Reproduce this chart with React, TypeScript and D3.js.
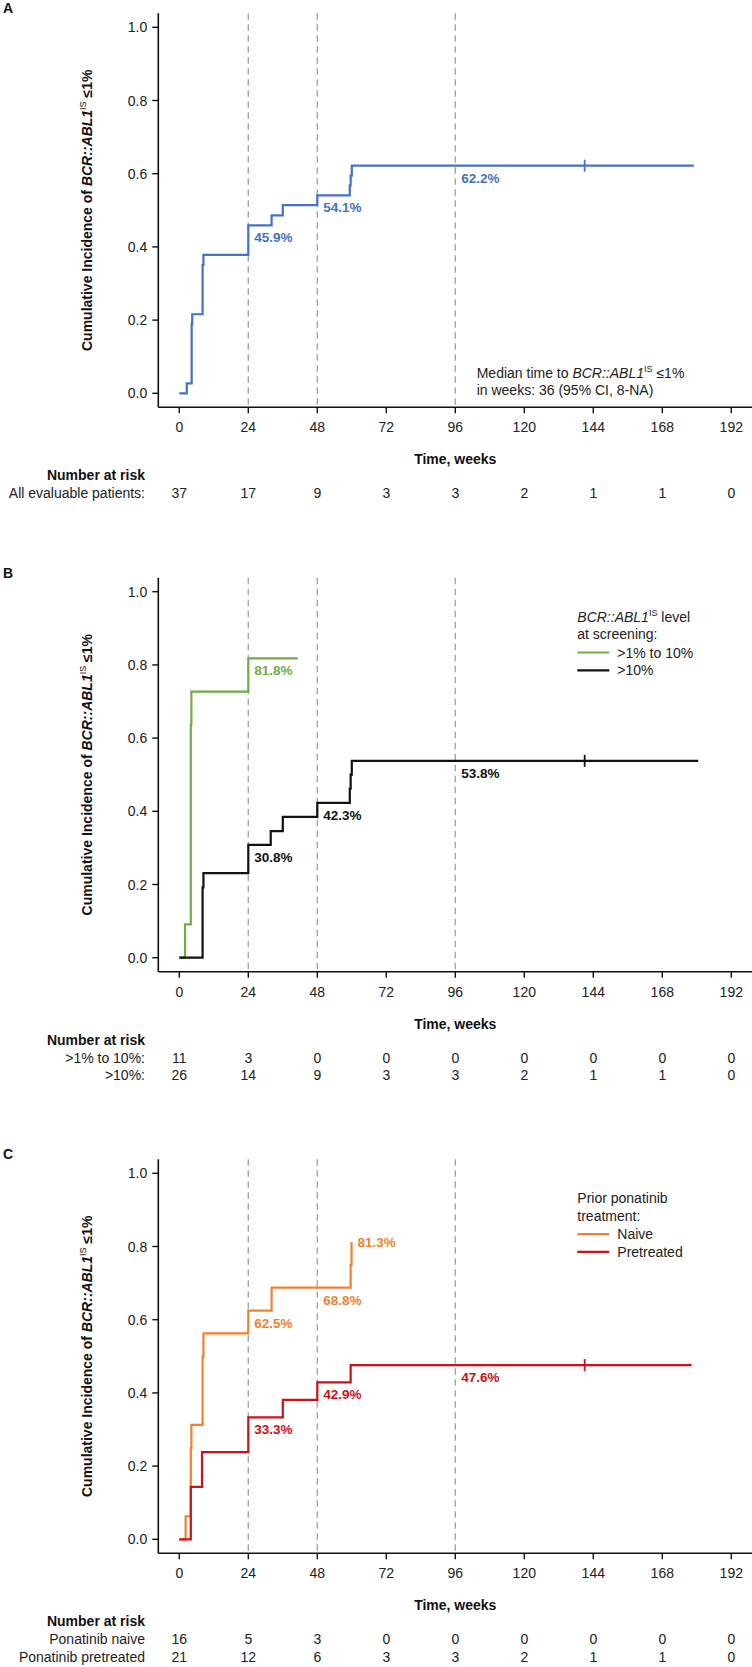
import React from "react";
import * as d3 from "d3";

const FONT = "'Liberation Sans', Arial, Helvetica, sans-serif";

const weekTicks = [0, 24, 48, 72, 96, 120, 144, 168, 192];
const yTicks = [0, 0.2, 0.4, 0.6, 0.8, 1.0];
const refWeeks = [24, 48, 96];

// Panel A
const allTimes = [0, 2.6, 4.3, 4.5, 8.1, 8.4, 24, 32.1, 36, 48, 59.3, 59.6, 60];
const allValues = [0, 0.027, 0.189, 0.216, 0.351, 0.378, 0.459, 0.486, 0.514, 0.541, 0.568, 0.595, 0.622];
const allEnd = 179;
const allCensor = [141];
const allRisk = [37, 17, 9, 3, 3, 2, 1, 1, 0];

// Panel B
const lowTimes = [0, 2, 4.0, 4.2, 24];
const lowValues = [0, 0.091, 0.636, 0.727, 0.818];
const lowEnd = 41.2;
const highTimes = [0, 8.1, 8.4, 24, 31.8, 36, 48, 59.3, 59.6, 60];
const highValues = [0, 0.192, 0.231, 0.308, 0.346, 0.385, 0.423, 0.462, 0.5, 0.538];
const highEnd = 180.5;
const highCensor = [141];
const lowRisk = [11, 3, 0, 0, 0, 0, 0, 0, 0];
const highRisk = [26, 14, 9, 3, 3, 2, 1, 1, 0];

// Panel C
const naiveTimes = [0, 2.2, 4.0, 4.2, 8.1, 8.4, 24, 32.1, 59.6, 59.9];
const naiveValues = [0, 0.0625, 0.25, 0.3125, 0.5, 0.5625, 0.625, 0.6875, 0.75, 0.8125];
const naiveEnd = 59.9;
const preTimes = [0, 4.0, 7.9, 24, 36, 48, 59.6];
const preValues = [0, 0.143, 0.238, 0.333, 0.381, 0.429, 0.476];
const preEnd = 178.2;
const preCensor = [141];
const naiveRisk = [16, 5, 3, 0, 0, 0, 0, 0, 0];
const preRisk = [21, 12, 6, 3, 3, 2, 1, 1, 0];

const BLUE = "#4472c4";
const GREEN = "#70ad47";
const BLACK = "#111111";
const ORANGE = "#f0812f";
const RED = "#cc1018";

type Series = { times: number[]; values: number[]; end: number; censor: number[]; color: string };
type Label = { text: string; t: number; v: number; color: string; side?: "right" };
type RiskRow = { name: string; counts: number[] };

const xScale = d3.scaleLinear().domain([0, 192]).range([179.3, 731.3]);
const AXIS_X = 158.3;
const PLOT_H = 366;

function stepPath(s: Series, y: d3.ScaleLinear<number, number>) {
  const pts: [number, number][] = s.times.map((t, i) => [t, s.values[i]]);
  pts.push([s.end, s.values[s.values.length - 1]]);
  const line = d3
    .line<[number, number]>()
    .x((d) => xScale(d[0]))
    .y((d) => y(d[1]))
    .curve(d3.curveStepAfter);
  return line(pts) || "";
}

function valueAt(s: Series, t: number) {
  let v = 0;
  s.times.forEach((tt, i) => {
    if (tt <= t) v = s.values[i];
  });
  return v;
}

function YTitle({ cx, cy }: { cx: number; cy: number }) {
  return (
    <text
      transform={`translate(${cx},${cy}) rotate(-90)`}
      textAnchor="middle"
      fontFamily={FONT}
      fontSize={14}
      fontWeight="bold"
      fill="#111"
    >
      <tspan>Cumulative Incidence of </tspan>
      <tspan fontStyle="italic">BCR::ABL1</tspan>
      <tspan fontSize={9} fontWeight="normal" dy={-6}>IS</tspan>
      <tspan dy={6}> ≤1%</tspan>
    </text>
  );
}

function Panel({
  letter,
  top,
  series,
  labels,
  risk,
  legend,
}: {
  letter: string;
  top: number;
  series: Series[];
  labels: Label[];
  risk: RiskRow[];
  legend: React.ReactNode;
}) {
  const y = d3.scaleLinear().domain([0, 1]).range([top + PLOT_H, top]);
  const Y0 = y(0);
  const axisTop = top - 14;
  const axisBottom = Y0 + 14;
  return (
    <g fontFamily={FONT}>
      <text x={3} y={top - 14} fontSize={14} fontWeight="bold" fill="#111">
        {letter}
      </text>
      {/* reference dashed lines */}
      {refWeeks.map((w) => (
        <line
          key={w}
          x1={xScale(w)}
          x2={xScale(w)}
          y1={axisTop}
          y2={axisBottom}
          stroke="#a6a6a6"
          strokeWidth={1.4}
          strokeDasharray="6.5,4.5"
        />
      ))}
      {/* axes */}
      <line x1={AXIS_X} x2={AXIS_X} y1={axisTop} y2={axisBottom} stroke="#111" strokeWidth={1.6} />
      <line x1={AXIS_X} x2={752} y1={axisBottom} y2={axisBottom} stroke="#111" strokeWidth={1.6} />
      {yTicks.map((v) => (
        <g key={v}>
          <line x1={AXIS_X - 6} x2={AXIS_X} y1={y(v)} y2={y(v)} stroke="#111" strokeWidth={1.4} />
          <text x={AXIS_X - 11} y={y(v) + 5} textAnchor="end" fontSize={14} fill="#222">
            {v.toFixed(1)}
          </text>
        </g>
      ))}
      {weekTicks.map((w) => (
        <g key={w}>
          <line x1={xScale(w)} x2={xScale(w)} y1={axisBottom} y2={axisBottom + 6} stroke="#111" strokeWidth={1.4} />
          <text x={xScale(w)} y={Y0 + 39} textAnchor="middle" fontSize={14} fill="#222">
            {w}
          </text>
        </g>
      ))}
      <YTitle cx={92} cy={(y(0) + y(1)) / 2} />
      <text x={xScale(96)} y={Y0 + 71} textAnchor="middle" fontSize={14} fontWeight="bold" fill="#111">
        Time, weeks
      </text>
      {/* curves */}
      {series.map((s, i) => (
        <g key={i}>
          <path d={stepPath(s, y)} fill="none" stroke={s.color} strokeWidth={2.2} />
          {s.censor.map((c) => (
            <line
              key={c}
              x1={xScale(c)}
              x2={xScale(c)}
              y1={y(valueAt(s, c)) - 6}
              y2={y(valueAt(s, c)) + 6}
              stroke={s.color}
              strokeWidth={1.8}
            />
          ))}
        </g>
      ))}
      {labels.map((l, i) =>
        l.side === "right" ? (
          <text key={i} x={xScale(l.t) + 6} y={y(l.v) + 5} fontSize={13.5} fontWeight="bold" fill={l.color}>
            {l.text}
          </text>
        ) : (
          <text key={i} x={xScale(l.t) + 6} y={y(l.v) + 17} fontSize={13.5} fontWeight="bold" fill={l.color}>
            {l.text}
          </text>
        )
      )}
      {legend}
      {/* number at risk */}
      <text x={145} y={Y0 + 87} textAnchor="end" fontSize={14} fontWeight="bold" fill="#111">
        Number at risk
      </text>
      {risk.map((r, ri) => (
        <g key={ri}>
          <text x={145} y={Y0 + 105 + ri * 17.7} textAnchor="end" fontSize={14} fill="#222">
            {r.name}
          </text>
          {r.counts.map((c, ci) => (
            <text
              key={ci}
              x={xScale(weekTicks[ci])}
              y={Y0 + 105 + ri * 17.7}
              textAnchor="middle"
              fontSize={14}
              fill="#222"
            >
              {c}
            </text>
          ))}
        </g>
      ))}
    </g>
  );
}

function LegendBlock({
  top,
  title1,
  title2,
  items,
}: {
  top: number;
  title1: React.ReactNode;
  title2: string;
  items: { name: string; color: string }[];
}) {
  const lx = 577.3;
  return (
    <g fontFamily={FONT} fontSize={14} fill="#222">
      <text x={lx} y={top + 30}>{title1}</text>
      <text x={lx} y={top + 47.5}>{title2}</text>
      {items.map((it, i) => (
        <g key={i}>
          <line x1={lx} x2={lx + 32} y1={top + 60.8 + i * 17.8} y2={top + 60.8 + i * 17.8} stroke={it.color} strokeWidth={2.2} />
          <text x={lx + 40} y={top + 65.8 + i * 17.8}>{it.name}</text>
        </g>
      ))}
    </g>
  );
}

export default function App() {
  const topA = 27.3;
  const topB = 591.7;
  const topC = 1173.3;
  const yA = d3.scaleLinear().domain([0, 1]).range([topA + PLOT_H, topA]);

  const seriesA: Series[] = [{ times: allTimes, values: allValues, end: allEnd, censor: allCensor, color: BLUE }];
  const labelsA: Label[] = [
    { text: "45.9%", t: 24, v: valueAt(seriesA[0], 24), color: BLUE },
    { text: "54.1%", t: 48, v: valueAt(seriesA[0], 48), color: BLUE },
    { text: "62.2%", t: 96, v: valueAt(seriesA[0], 96), color: BLUE },
  ];

  const seriesB: Series[] = [
    { times: lowTimes, values: lowValues, end: lowEnd, censor: [], color: GREEN },
    { times: highTimes, values: highValues, end: highEnd, censor: highCensor, color: BLACK },
  ];
  const labelsB: Label[] = [
    { text: "81.8%", t: 24, v: valueAt(seriesB[0], 24), color: GREEN },
    { text: "30.8%", t: 24, v: valueAt(seriesB[1], 24), color: BLACK },
    { text: "42.3%", t: 48, v: valueAt(seriesB[1], 48), color: BLACK },
    { text: "53.8%", t: 96, v: valueAt(seriesB[1], 96), color: BLACK },
  ];

  const seriesC: Series[] = [
    { times: naiveTimes, values: naiveValues, end: naiveEnd, censor: [], color: ORANGE },
    { times: preTimes, values: preValues, end: preEnd, censor: preCensor, color: RED },
  ];
  const labelsC: Label[] = [
    { text: "62.5%", t: 24, v: valueAt(seriesC[0], 24), color: ORANGE },
    { text: "68.8%", t: 48, v: valueAt(seriesC[0], 48), color: ORANGE },
    { text: "81.3%", t: naiveEnd, v: valueAt(seriesC[0], naiveEnd), color: ORANGE, side: "right" },
    { text: "33.3%", t: 24, v: valueAt(seriesC[1], 24), color: RED },
    { text: "42.9%", t: 48, v: valueAt(seriesC[1], 48), color: RED },
    { text: "47.6%", t: 96, v: valueAt(seriesC[1], 96), color: RED },
  ];

  const medianNote = (
    <g fontFamily={FONT} fontSize={14} fill="#222">
      <text x={476.7} y={yA(0) - 15.5}>
        <tspan>Median time to </tspan>
        <tspan fontStyle="italic">BCR::ABL1</tspan>
        <tspan fontSize={9} dy={-6}>IS</tspan>
        <tspan dy={6}> ≤1%</tspan>
      </text>
      <text x={476.7} y={yA(0) + 1.5}>in weeks: 36 (95% CI, 8-NA)</text>
    </g>
  );

  return (
    <svg
      width={752}
      height={1667}
      style={{ position: "absolute", left: 0, top: 0, background: "#fff" }}
    >
      <rect x={0} y={0} width={752} height={1667} fill="#fff" />
      <Panel
        letter="A"
        top={topA}
        series={seriesA}
        labels={labelsA}
        risk={[{ name: "All evaluable patients:", counts: allRisk }]}
        legend={medianNote}
      />
      <Panel
        letter="B"
        top={topB}
        series={seriesB}
        labels={labelsB}
        risk={[
          { name: ">1% to 10%:", counts: lowRisk },
          { name: ">10%:", counts: highRisk },
        ]}
        legend={
          <LegendBlock
            top={topB}
            title1={
              <>
                <tspan fontStyle="italic">BCR::ABL1</tspan>
                <tspan fontSize={9} dy={-6}>IS</tspan>
                <tspan dy={6}> level</tspan>
              </>
            }
            title2="at screening:"
            items={[
              { name: ">1% to 10%", color: GREEN },
              { name: ">10%", color: BLACK },
            ]}
          />
        }
      />
      <Panel
        letter="C"
        top={topC}
        series={seriesC}
        labels={labelsC}
        risk={[
          { name: "Ponatinib naive", counts: naiveRisk },
          { name: "Ponatinib pretreated", counts: preRisk },
        ]}
        legend={
          <LegendBlock
            top={topC}
            title1="Prior ponatinib"
            title2="treatment:"
            items={[
              { name: "Naive", color: ORANGE },
              { name: "Pretreated", color: RED },
            ]}
          />
        }
      />
    </svg>
  );
}
